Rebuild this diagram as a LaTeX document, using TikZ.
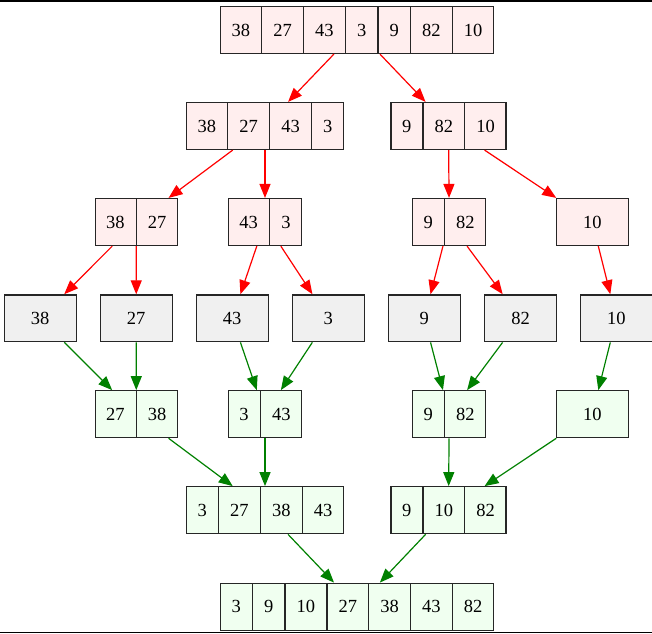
\documentclass[tikz,border=0pt]{standalone}
\usepackage{fontspec}
\setmainfont{Liberation Serif}
\usetikzlibrary{arrows.meta, positioning, shapes.multipart}
\definecolor{splitfill}{RGB}{255, 238, 238}
\definecolor{leaffill}{RGB}{240, 240, 240}
\definecolor{mergefill}{RGB}{240, 255, 240}
\definecolor{mergegreen}{RGB}{0, 128, 0}
\tikzset{
  rec/.style={rectangle split, rectangle split horizontal, draw=black!85, line width=1.3pt,
              inner xsep=11pt, inner ysep=17.2pt, font=\fontsize{18.5}{22}\selectfont},
  box/.style={rectangle, draw=black!85, line width=1.3pt, minimum width=72pt,
              inner ysep=17.2pt, font=\fontsize{18.5}{22}\selectfont},
  splitedge/.style={-{Triangle[length=14pt, width=11pt]}, red, line width=1.2pt},
  mergeedge/.style={-{Triangle[length=14pt, width=11pt]}, mergegreen, line width=1.2pt}
}
\begin{document}
\begin{tikzpicture}[x=1pt, y=-1pt]
  \useasboundingbox (0,0) rectangle (652,633);
  % splitting down
  \node[rec, fill=splitfill, rectangle split parts=7] (sp0) at (357,30)
       {38\nodepart{two}27\nodepart{three}43\nodepart{four}3\nodepart{five}9\nodepart{six}82\nodepart{seven}10};
  \node[rec, fill=splitfill, rectangle split parts=4] (sp1) at (265,126)
       {38\nodepart{two}27\nodepart{three}43\nodepart{four}3};
  \node[rec, fill=splitfill, rectangle split parts=3] (sp2) at (448.5,126)
       {9\nodepart{two}82\nodepart{three}10};
  \node[rec, fill=splitfill, rectangle split parts=2] (sp3) at (136.3,222) {38\nodepart{two}27};
  \node[rec, fill=splitfill, rectangle split parts=2] (sp4) at (265,222) {43\nodepart{two}3};
  \node[rec, fill=splitfill, rectangle split parts=2] (sp5) at (449.2,222) {9\nodepart{two}82};
  \node[box, fill=splitfill] (sp6) at (592.3,222) {10};
  % single elements
  \node[box, fill=leaffill] (lf1) at (40.2,318.3) {38};
  \node[box, fill=leaffill] (lf2) at (136.2,318.3) {27};
  \node[box, fill=leaffill] (lf3) at (232.2,318.3) {43};
  \node[box, fill=leaffill] (lf4) at (328.2,318.3) {3};
  \node[box, fill=leaffill] (lf5) at (424.3,318.3) {9};
  \node[box, fill=leaffill] (lf6) at (520.5,318.3) {82};
  \node[box, fill=leaffill] (lf7) at (616.3,318.3) {10};
  % merging up
  \node[rec, fill=mergefill, rectangle split parts=2] (mg1) at (136.3,414.2) {27\nodepart{two}38};
  \node[rec, fill=mergefill, rectangle split parts=2] (mg2) at (265,414.2) {3\nodepart{two}43};
  \node[rec, fill=mergefill, rectangle split parts=2] (mg3) at (449.2,414.2) {9\nodepart{two}82};
  \node[box, fill=mergefill] (mg4) at (592.3,414.2) {10};
  \node[rec, fill=mergefill, rectangle split parts=4] (mg5) at (265,510.2)
       {3\nodepart{two}27\nodepart{three}38\nodepart{four}43};
  \node[rec, fill=mergefill, rectangle split parts=3] (mg6) at (448.5,510.2)
       {9\nodepart{two}10\nodepart{three}82};
  \node[rec, fill=mergefill, rectangle split parts=7] (res) at (357,606.7)
       {3\nodepart{two}9\nodepart{three}10\nodepart{four}27\nodepart{five}38\nodepart{six}43\nodepart{seven}82};
  \draw[splitedge] (sp0)--(sp1); \draw[splitedge] (sp0)--(sp2);
  \draw[splitedge] (sp1)--(sp3); \draw[splitedge] (sp1)--(sp4);
  \draw[splitedge] (sp2)--(sp5); \draw[splitedge] (sp2)--(sp6);
  \draw[splitedge] (sp3)--(lf1); \draw[splitedge] (sp3)--(lf2);
  \draw[splitedge] (sp4)--(lf3); \draw[splitedge] (sp4)--(lf4);
  \draw[splitedge] (sp5)--(lf5); \draw[splitedge] (sp5)--(lf6);
  \draw[splitedge] (sp6)--(lf7);
  \draw[mergeedge] (lf1)--(mg1); \draw[mergeedge] (lf2)--(mg1);
  \draw[mergeedge] (lf3)--(mg2); \draw[mergeedge] (lf4)--(mg2);
  \draw[mergeedge] (lf5)--(mg3); \draw[mergeedge] (lf6)--(mg3);
  \draw[mergeedge] (lf7)--(mg4);
  \draw[mergeedge] (mg1)--(mg5); \draw[mergeedge] (mg2)--(mg5);
  \draw[mergeedge] (mg3)--(mg6); \draw[mergeedge] (mg4)--(mg6);
  \draw[mergeedge] (mg5)--(res); \draw[mergeedge] (mg6)--(res);
  % page edges
  \draw[line width=1.5pt] (0,0.75)--(652,0.75);
  \draw[line width=1.5pt] (0,632.25)--(652,632.25);
\end{tikzpicture}
\end{document}
